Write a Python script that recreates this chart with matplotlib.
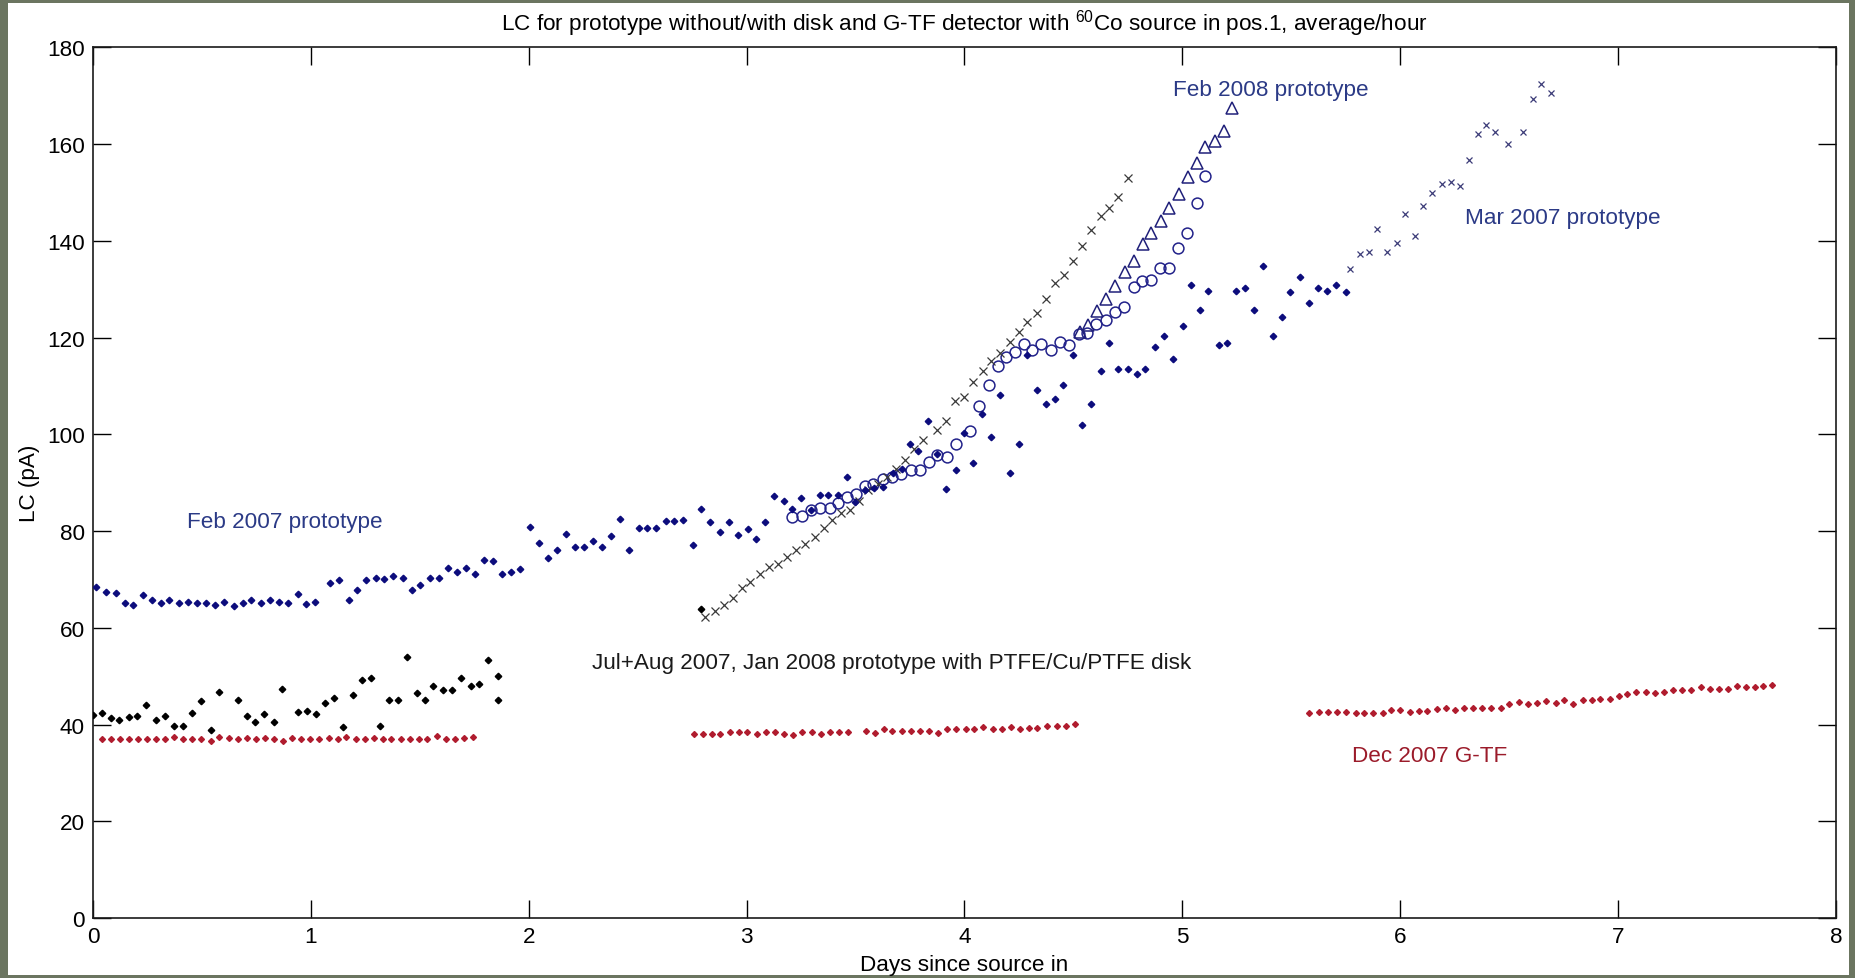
import matplotlib
matplotlib.use("Agg")
import matplotlib.pyplot as plt
from matplotlib.patches import Rectangle

plt.rcParams["font.family"] = ["Liberation Sans", "DejaVu Sans"]
plt.rcParams["mathtext.fontset"] = "custom"
plt.rcParams["mathtext.rm"] = "Liberation Sans"

# ---- Feb 2007 prototype (blue diamonds)
feb07_x = [0.016, 0.059, 0.104, 0.147, 0.184, 0.231, 0.272, 0.311, 0.348, 0.395,
           0.436, 0.476, 0.519, 0.562, 0.603, 0.646, 0.687, 0.726, 0.769, 0.812,
           0.853, 0.896, 0.939, 0.978, 1.018, 1.088, 1.129, 1.174, 1.213, 1.252,
           1.297, 1.337, 1.378, 1.423, 1.462, 1.503, 1.548, 1.589, 1.630, 1.673,
           1.714, 1.755, 1.793, 1.838, 1.879, 1.920, 1.961, 2.004, 2.045, 2.090,
           2.129, 2.172, 2.213, 2.254, 2.294, 2.337, 2.378, 2.417, 2.458, 2.505,
           2.544, 2.583, 2.628, 2.669, 2.708, 2.755, 2.793, 2.834, 2.878, 2.920,
           2.959, 3.005, 3.045, 3.083, 3.124, 3.170, 3.208, 3.248, 3.297, 3.335,
           3.373, 3.419, 3.460, 3.498, 3.544, 3.585, 3.628, 3.671, 3.711, 3.749,
           3.788, 3.834, 3.872, 3.914, 3.959, 3.999, 4.039, 4.081, 4.124, 4.165,
           4.210, 4.250, 4.289, 4.335, 4.375, 4.415, 4.454, 4.500, 4.540, 4.580,
           4.625, 4.665, 4.705, 4.750, 4.790, 4.830, 4.876, 4.915, 4.955, 5.001,
           5.040, 5.080, 5.120, 5.166, 5.205, 5.245, 5.289, 5.331, 5.370, 5.416,
           5.456, 5.496, 5.541, 5.581, 5.621, 5.665, 5.705, 5.752]
feb07_y = [68.4, 67.5, 67.2, 65.2, 64.7, 66.7, 65.8, 65.2, 65.8, 65.2,
           65.4, 65.2, 65.2, 64.8, 65.4, 64.6, 65.1, 65.7, 65.1, 65.7,
           65.4, 65.1, 67.0, 64.9, 65.4, 69.3, 69.9, 65.7, 67.9, 69.9,
           70.2, 70.0, 70.8, 70.2, 67.9, 68.8, 70.3, 70.3, 72.3, 71.6,
           72.3, 71.1, 74.1, 73.8, 71.1, 71.6, 72.2, 80.9, 77.5, 74.5,
           76.1, 79.3, 76.7, 76.7, 77.9, 76.7, 79.0, 82.5, 76.1, 80.6,
           80.6, 80.6, 82.1, 82.1, 82.3, 77.1, 84.6, 81.9, 79.8, 81.9,
           79.2, 80.5, 78.4, 81.9, 87.3, 86.2, 84.6, 86.8, 84.4, 87.5,
           87.5, 87.4, 91.2, 86.0, 88.4, 89.0, 89.1, 92.0, 92.8, 98.0,
           96.6, 102.8, 95.9, 88.6, 92.6, 100.3, 94.1, 104.2, 99.5, 108.1,
           92.0, 98.0, 116.5, 109.1, 106.3, 107.3, 110.2, 116.5, 101.9, 106.3,
           113.2, 118.9, 113.5, 113.5, 112.5, 113.5, 118.0, 120.4, 115.6, 122.5,
           130.8, 125.8, 129.6, 118.5, 118.9, 129.6, 130.2, 125.8, 134.8, 120.4,
           124.3, 129.4, 132.6, 127.2, 130.2, 129.6, 130.8, 129.4]

# ---- Jul+Aug 2007 with disk (black diamonds)
jul07_x = [0.000, 0.043, 0.082, 0.121, 0.166, 0.204, 0.245, 0.290, 0.329, 0.372,
           0.413, 0.456, 0.495, 0.540, 0.579, 0.667, 0.706, 0.744, 0.785, 0.830,
           0.869, 0.943, 0.982, 1.022, 1.065, 1.108, 1.147, 1.194, 1.233, 1.274,
           1.319, 1.358, 1.399, 1.442, 1.485, 1.524, 1.562, 1.607, 1.646, 1.689,
           1.734, 1.773, 1.814, 1.859, 1.859, 2.790]
jul07_y = [41.9, 42.4, 41.3, 41.0, 41.5, 41.7, 44.1, 40.9, 41.7, 39.7,
           39.7, 42.4, 44.8, 38.8, 46.8, 45.0, 41.7, 40.6, 42.1, 40.6,
           47.4, 42.6, 42.9, 42.1, 44.4, 45.5, 39.4, 46.2, 49.2, 49.7,
           39.6, 45.0, 45.0, 53.9, 46.5, 45.0, 48.0, 47.1, 47.1, 49.7,
           48.0, 48.3, 53.3, 50.0, 45.0, 63.9]

# ---- Dec 2007 G-TF (red diamonds), three runs
gtf_x = [0.041, 0.082, 0.123, 0.166, 0.207, 0.247, 0.290, 0.331, 0.372, 0.413,
         0.454, 0.497, 0.540, 0.579, 0.622, 0.665, 0.706, 0.746, 0.789, 0.830,
         0.871, 0.912, 0.957, 0.996, 1.039, 1.082, 1.123, 1.162, 1.207, 1.247,
         1.288, 1.329, 1.370, 1.415, 1.454, 1.497, 1.534, 1.577, 1.622, 1.661,
         1.703, 1.746,
         2.758, 2.798, 2.839, 2.877, 2.923, 2.965, 3.004, 3.049, 3.089, 3.130,
         3.173, 3.214, 3.255, 3.301, 3.341, 3.382, 3.425, 3.466, 3.546, 3.589,
         3.630, 3.668, 3.714, 3.754, 3.795, 3.838, 3.879, 3.921, 3.961, 4.005,
         4.045, 4.086, 4.129, 4.170, 4.213, 4.254, 4.297, 4.335, 4.380, 4.423,
         4.464, 4.507,
         5.582, 5.628, 5.669, 5.710, 5.750, 5.795, 5.834, 5.876, 5.922, 5.960,
         5.998, 6.044, 6.084, 6.123, 6.171, 6.212, 6.251, 6.293, 6.335, 6.376,
         6.416, 6.462, 6.500, 6.543, 6.587, 6.627, 6.668, 6.713, 6.752, 6.794,
         6.837, 6.878, 6.919, 6.962, 7.003, 7.043, 7.084, 7.127, 7.168, 7.210,
         7.252, 7.294, 7.334, 7.379, 7.421, 7.463, 7.505, 7.546, 7.586, 7.627,
         7.665, 7.708]
gtf_y = [37.0, 37.0, 37.0, 37.0, 37.0, 37.0, 37.0, 37.0, 37.4, 37.0,
         37.0, 37.0, 36.6, 37.4, 37.2, 37.0, 37.3, 37.0, 37.3, 37.0,
         36.6, 37.3, 37.0, 37.0, 37.0, 37.3, 37.0, 37.4, 37.0, 37.0,
         37.3, 37.0, 37.0, 37.0, 37.0, 37.0, 37.0, 37.6, 37.0, 37.0,
         37.2, 37.4,
         38.0, 38.0, 38.0, 38.0, 38.5, 38.5, 38.5, 38.1, 38.5, 38.5,
         38.1, 37.8, 38.5, 38.5, 38.1, 38.5, 38.5, 38.5, 38.7, 38.3,
         39.0, 38.7, 38.7, 38.7, 38.7, 38.7, 38.3, 39.0, 39.0, 39.0,
         39.0, 39.4, 39.0, 39.0, 39.4, 39.0, 39.2, 39.2, 39.8, 39.8,
         39.6, 40.1,
         42.3, 42.6, 42.6, 42.6, 42.6, 42.3, 42.3, 42.3, 42.3, 43.0,
         43.0, 42.6, 42.8, 42.8, 43.2, 43.5, 43.0, 43.5, 43.5, 43.5,
         43.5, 43.5, 44.2, 44.6, 44.2, 44.4, 44.8, 44.4, 45.0, 44.3,
         45.0, 45.0, 45.2, 45.2, 45.9, 46.3, 46.8, 46.8, 46.5, 46.8,
         47.2, 47.1, 47.1, 47.7, 47.3, 47.3, 47.3, 48.0, 47.7, 47.7,
         47.9, 48.1]

# ---- crosses, 2.8-4.75 days (dark grey)
cross_x = [2.811, 2.854, 2.895, 2.938, 2.979, 3.017, 3.063, 3.101, 3.144, 3.185,
           3.228, 3.269, 3.312, 3.353, 3.394, 3.434, 3.475, 3.518, 3.559, 3.601,
           3.643, 3.684, 3.727, 3.770, 3.811, 3.872, 3.914, 3.956, 3.999, 4.040,
           4.083, 4.124, 4.165, 4.208, 4.251, 4.289, 4.334, 4.373, 4.415, 4.456,
           4.498, 4.540, 4.580, 4.625, 4.664, 4.705, 4.751]
cross_y = [62.3, 63.4, 64.8, 66.1, 68.2, 69.4, 71.1, 72.5, 73.2, 74.6,
           76.0, 77.4, 78.7, 80.7, 82.3, 83.7, 84.3, 86.2, 88.4, 89.7,
           91.2, 92.9, 94.8, 97.0, 98.9, 101.0, 102.8, 107.0, 107.8, 110.9,
           113.0, 115.1, 116.9, 119.0, 121.1, 123.2, 125.0, 127.9, 131.2, 132.9,
           135.8, 138.9, 142.2, 145.2, 146.9, 149.0, 153.1]

# ---- open circles
circ_x = [3.208, 3.254, 3.295, 3.338, 3.381, 3.419, 3.460, 3.503, 3.544, 3.582,
          3.625, 3.666, 3.709, 3.753, 3.796, 3.837, 3.875, 3.918, 3.959, 4.025,
          4.068, 4.114, 4.152, 4.190, 4.231, 4.274, 4.312, 4.353, 4.399, 4.438,
          4.479, 4.525, 4.562, 4.605, 4.650, 4.690, 4.731, 4.776, 4.815, 4.857,
          4.896, 4.941, 4.979, 5.021, 5.066, 5.106]
circ_y = [82.9, 83.1, 84.3, 84.8, 84.8, 85.9, 87.0, 87.6, 89.3, 89.8,
          90.7, 91.1, 91.8, 92.6, 92.6, 94.3, 95.8, 95.3, 98.0, 100.7,
          105.9, 110.2, 114.2, 116.0, 117.1, 118.7, 117.4, 118.7, 117.4, 119.0,
          118.5, 120.8, 120.9, 122.8, 123.7, 125.4, 126.3, 130.5, 131.7, 132.0,
          134.3, 134.3, 138.6, 141.6, 147.8, 153.5]

# ---- Feb 2008 prototype (open triangles)
tri_x = [4.529, 4.567, 4.610, 4.651, 4.692, 4.738, 4.778, 4.818, 4.857, 4.900,
         4.941, 4.983, 5.025, 5.066, 5.104, 5.152, 5.190, 5.228]
tri_y = [121.1, 122.7, 125.5, 128.0, 130.6, 133.5, 135.8, 139.3, 141.6, 144.1,
         146.8, 149.7, 153.3, 156.1, 159.4, 160.7, 162.8, 167.5]

# ---- Mar 2007 prototype (small blue crosses)
mar07_x = [5.770, 5.816, 5.857, 5.895, 5.941, 5.983, 6.022, 6.066, 6.106, 6.147,
           6.190, 6.231, 6.274, 6.318, 6.357, 6.396, 6.437, 6.495, 6.564, 6.610,
           6.648, 6.690]
mar07_y = [134.2, 137.2, 137.7, 142.4, 137.7, 139.5, 145.5, 141.0, 147.2, 150.0,
           151.8, 152.2, 151.4, 156.8, 162.1, 163.9, 162.5, 160.1, 162.5, 169.3,
           172.5, 170.6]

x_ticks = [0, 1, 2, 3, 4, 5, 6, 7, 8]
y_ticks = [0, 20, 40, 60, 80, 100, 120, 140, 160, 180]

NAVY = "#0c0c7c"
TXT_BLUE = "#2b3a86"
RED = "#b01c2e"
FS = 16.2

fig = plt.figure(figsize=(18.56, 9.79), dpi=100, facecolor="#6b7560")
# white sheet on the marbled frame
fig.patches.append(Rectangle((8 / 1856, 3 / 979), 1841 / 1856, 972 / 979,
                             transform=fig.transFigure, facecolor="white",
                             edgecolor="none", zorder=-10))
ax = fig.add_axes([0.0501, 0.0613, 0.9391, 0.8892])
ax.set_facecolor("white")

ax.plot(circ_x, circ_y, "o", ms=7.8, mfc="none", mec="#22228a", mew=1.1, zorder=3)
ax.plot(tri_x, tri_y, "^", ms=8.5, mfc="none", mec="#20207a", mew=1.1, zorder=3)
ax.plot(cross_x, cross_y, "x", ms=5.5, color="#3a3a3a", mew=0.9, zorder=4)
ax.plot(mar07_x, mar07_y, "x", ms=4.5, color="#3c3c78", mew=0.9, zorder=4)
ax.plot(gtf_x, gtf_y, "D", ms=3.0, color=RED, zorder=5)
ax.plot(jul07_x, jul07_y, "D", ms=3.3, color="black", zorder=5)
ax.plot(feb07_x, feb07_y, "D", ms=3.3, color=NAVY, zorder=5)

ax.set_xlim(0, 8)
ax.set_ylim(0, 180)
ax.set_xticks(x_ticks)
ax.set_yticks(y_ticks)
ax.tick_params(direction="in", length=13, width=1.0, top=True, right=True,
               labelsize=FS, pad=6, colors="black")
for sp in ax.spines.values():
    sp.set_linewidth(1.2)
    sp.set_color("#1a1a1a")

ax.set_xlabel("Days since source in", fontsize=FS, labelpad=5)
ax.set_ylabel("LC (pA)", fontsize=FS, labelpad=5)
ax.set_title("LC for prototype without/with disk and G-TF detector with "
             r"$^{\mathregular{60}}$Co source in pos.1, average/hour",
             fontsize=FS, pad=13)

ax.text(0.431, 81.9, "Feb 2007 prototype", color=TXT_BLUE, fontsize=FS, va="center")
ax.text(2.29, 52.9, "Jul+Aug 2007, Jan 2008 prototype with PTFE/Cu/PTFE disk",
        color="#1a1a1a", fontsize=FS, va="center")
ax.text(5.778, 33.5, "Dec 2007 G-TF", color="#9b1b2a", fontsize=FS, va="center")
ax.text(4.956, 171.4, "Feb 2008 prototype", color=TXT_BLUE, fontsize=FS, va="center")
ax.text(6.296, 144.9, "Mar 2007 prototype", color=TXT_BLUE, fontsize=FS, va="center")

fig.savefig("out.png", dpi=100, facecolor=fig.get_facecolor())
